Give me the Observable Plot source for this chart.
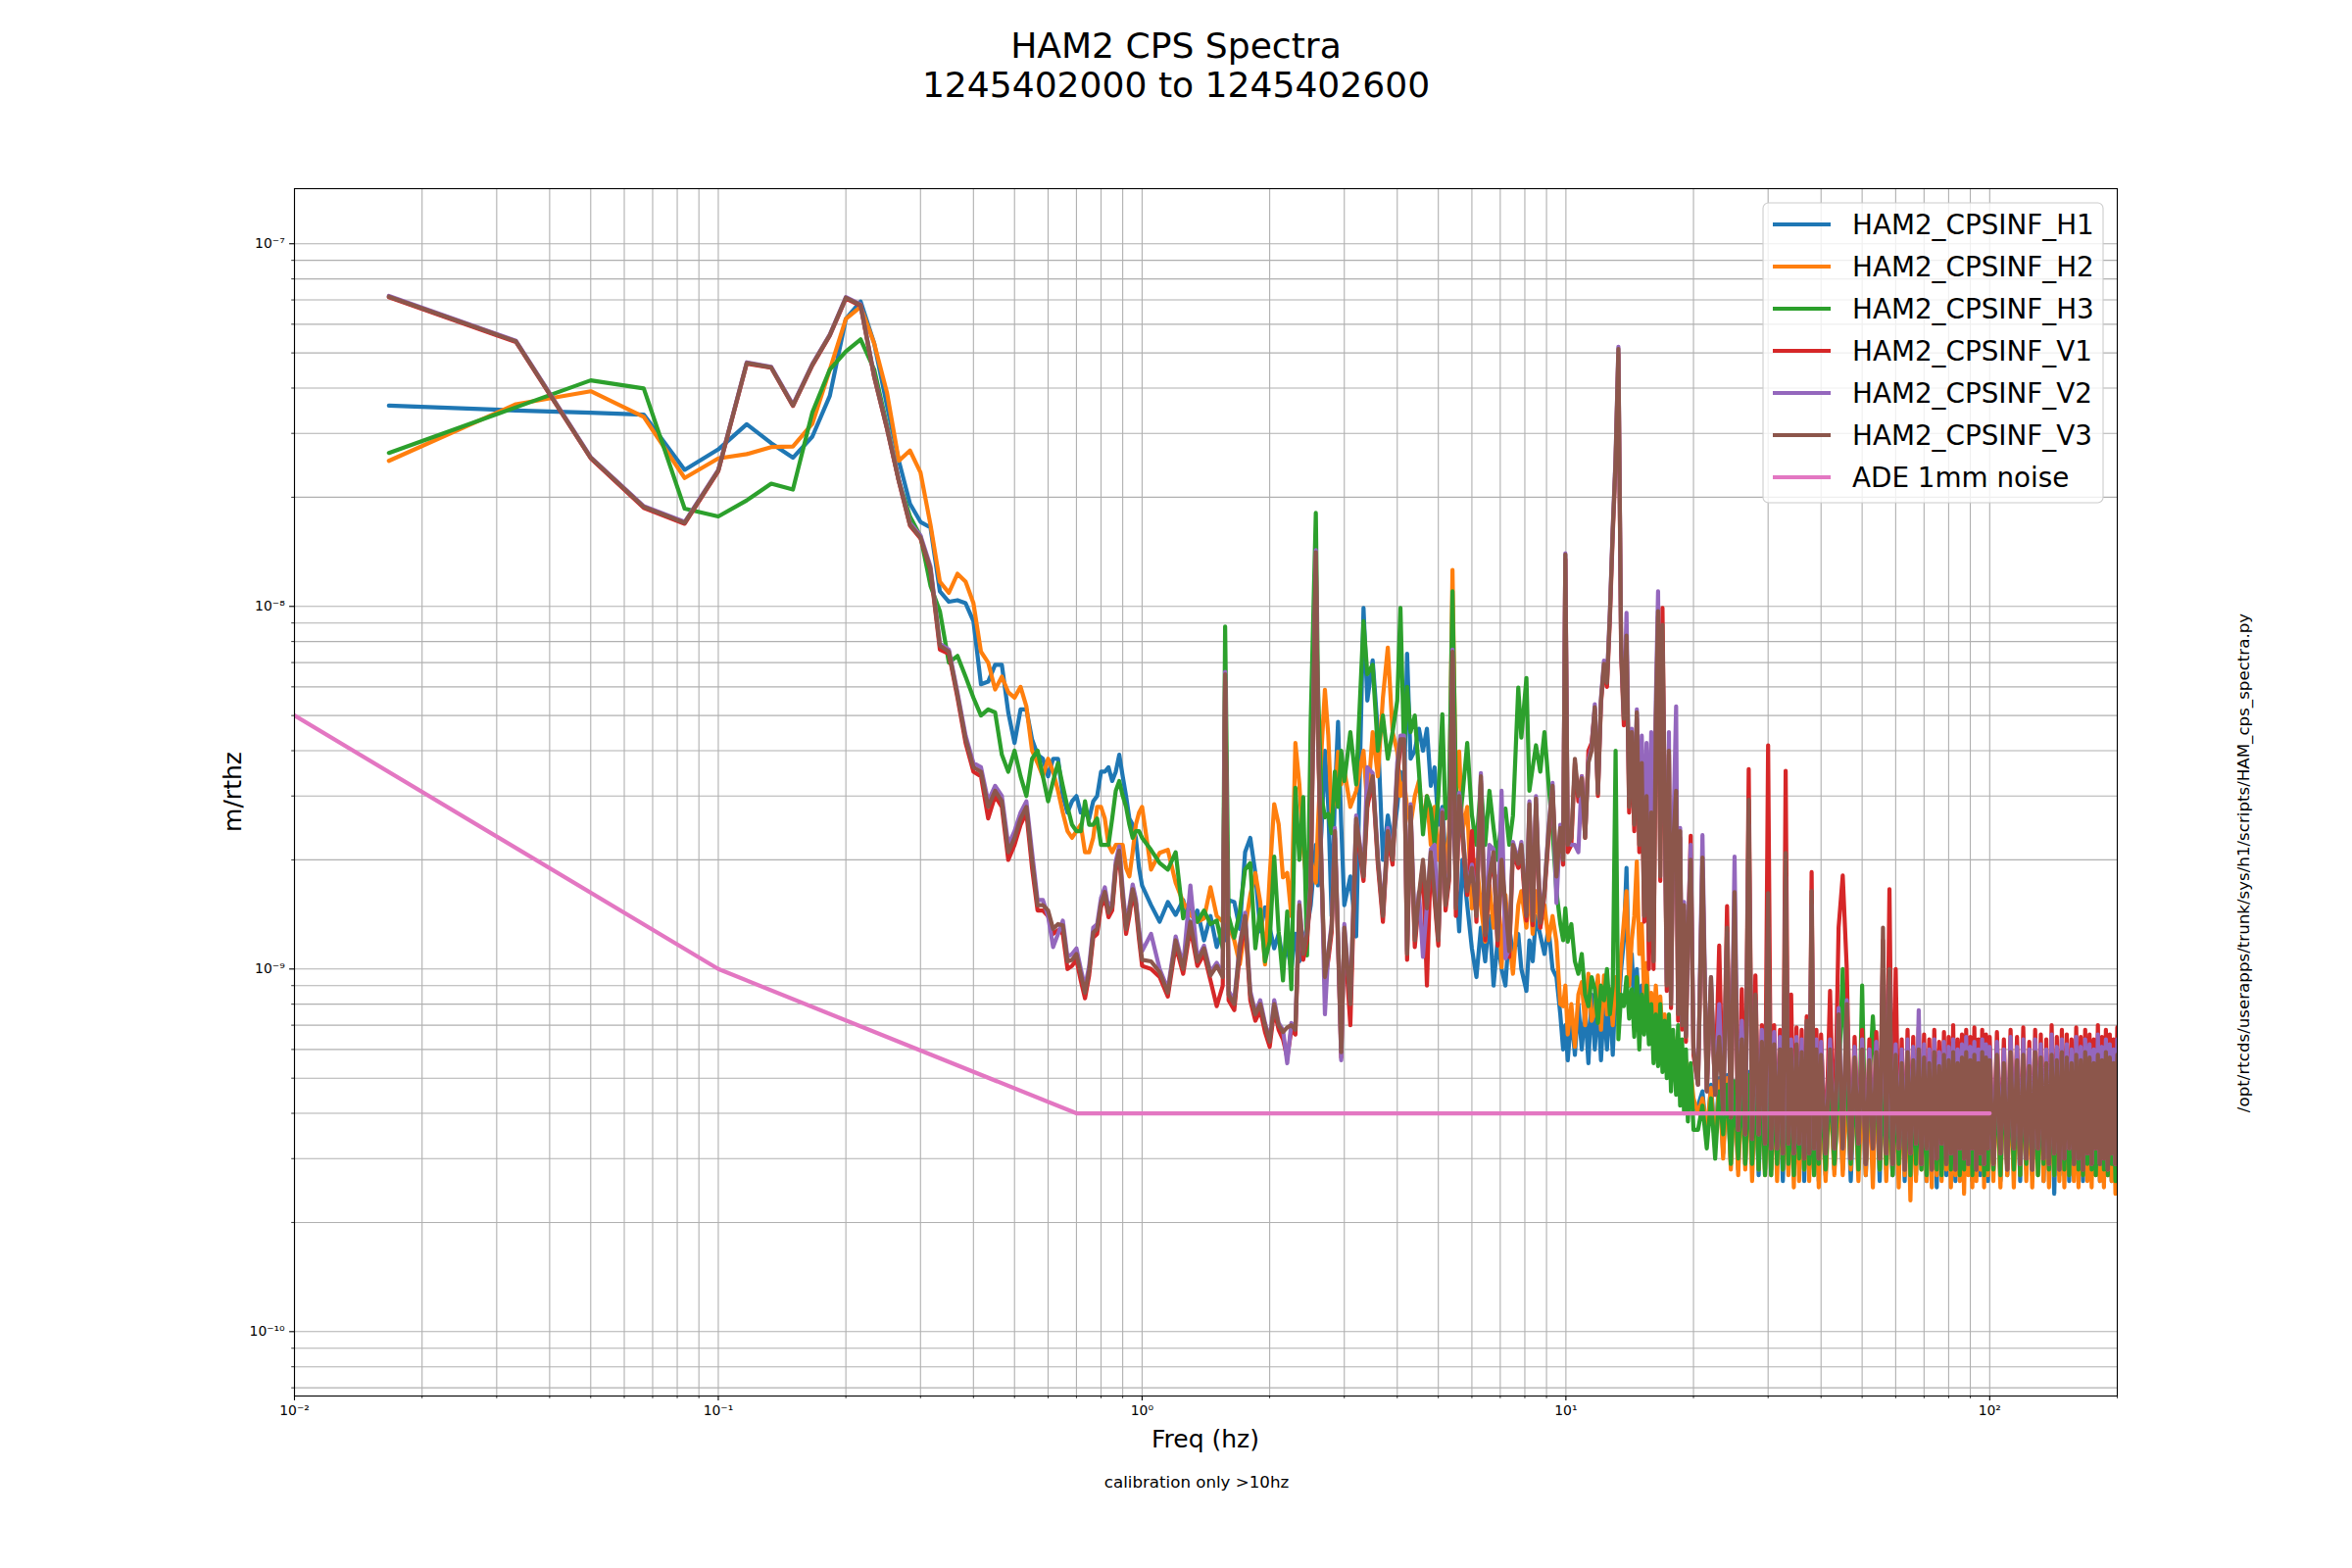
<!DOCTYPE html>
<html><head><meta charset="utf-8">
<script src="https://cdn.jsdelivr.net/npm/d3@7"></script>
<script src="https://cdn.jsdelivr.net/npm/@observablehq/plot@0.6"></script>
<style>
html,body{margin:0;padding:0;background:#fff;}
#wrap{position:relative;width:2400px;height:1600px;overflow:hidden;background:#fff;font-family:"DejaVu Sans",sans-serif;}
#wrap svg{position:absolute;left:0;top:0;}
</style></head><body><div id="wrap"></div>
<script>
// ---------- text ----------
const titleLines = ["HAM2 CPS Spectra", "1245402000 to 1245402600"];
const xLabel = "Freq (hz)";
const yLabel = "m/rthz";
const caption = "calibration only >10hz";
const sideText = "/opt/rtcds/userapps/trunk/sys/h1/scripts/HAM_cps_spectra.py";
const names = ["HAM2_CPSINF_H1","HAM2_CPSINF_H2","HAM2_CPSINF_H3","HAM2_CPSINF_V1","HAM2_CPSINF_V2","HAM2_CPSINF_V3","ADE 1mm noise"];
const colors = ["#1f77b4","#ff7f0e","#2ca02c","#d62728","#9467bd","#8c564b","#e377c2"];

// ---------- ticks ----------
const xMajor = [0.01, 0.1, 1, 10, 100];
const xTickLabels = ["10\u207B\u00B2","10\u207B\u00B9","10\u2070","10\u00B9","10\u00B2"];
const xMinor = [0.02,0.03,0.04,0.05,0.06,0.07,0.08,0.09,0.2,0.3,0.4,0.5,0.6,0.7,0.8,0.9,2,3,4,5,6,7,8,9,20,30,40,50,60,70,80,90,200];
const yMajor = [1e-10, 1e-9, 1e-8, 1e-7];
const yTickLabels = ["10\u207B\u00B9\u2070","10\u207B\u2079","10\u207B\u2078","10\u207B\u2077"];
const yMinor = [7e-11,8e-11,9e-11,2e-10,3e-10,4e-10,5e-10,6e-10,7e-10,8e-10,9e-10,2e-9,3e-9,4e-9,5e-9,6e-9,7e-9,8e-9,9e-9,2e-8,3e-8,4e-8,5e-8,6e-8,7e-8,8e-8,9e-8];

// ---------- data (amplitude in units of 1e-10 m/rtHz) ----------
const freqLow = [0.0167,0.0333,0.05,0.0667,0.0833,0.1,0.1167,0.1333,0.15,0.1667,0.1833,0.2,0.2167,0.2333,0.25,0.2667,0.2833,0.3,0.3167,0.3333,0.35,0.3667,0.3833,0.4,
0.4167,0.4333,0.45,0.4667,0.4833,0.5,0.5167,0.5333,0.55,0.5667,0.5833,0.6,0.6167,0.6333,0.65,0.6667,0.6833,0.7,0.7167,0.7333,0.75,0.7667,0.7833,0.8,0.8167,0.8333,0.85,0.8667,0.8833,0.9,0.9167,0.9333,0.95,0.9667,0.9833,1];
const freqMid = [
1.05,1.1,1.15,1.2,1.25,1.3,1.35,1.4,1.45,1.5,1.55,1.57,1.6,1.65,1.7,1.75,1.8,1.85,1.9,1.95,2.0,
2.05,2.1,2.15,2.2,2.25,2.3,2.35,2.4,2.45,2.5,2.57,2.6,2.65,2.7,2.75,2.8,2.85,2.9,2.95,3.0,
3.1,3.2,3.33,3.4,3.5,3.6,3.7,3.8,3.9,4.0,4.07,4.15,4.22,4.3,4.4,4.5,4.6,4.7,4.8,4.9,5.0,5.11,5.2,5.3,5.4,5.5,5.6,5.7,5.85,6.0,
6.15,6.3,6.45,6.6,6.75,6.9,7.05,7.2,7.35,7.5,7.72,7.85,8.07,8.2,8.35,8.5,8.7,8.9,9.1,9.3,9.5,9.7,9.85,9.97,10.1,
10.3,10.5,10.7,10.9,11.1,11.3,11.5,11.7,11.9,12.1,12.3,12.5,12.7,12.9,13.1,13.3,13.5,13.7,13.9,14.1,14.3,14.5,14.7,14.9,15.1,15.3,15.5,15.7,15.9,16.1,16.3,16.5,16.7,16.9,17.1,17.3,17.5,17.7,17.9,18.2,18.4,18.6,18.8,19.0,19.2,19.4,19.7,20.0];
const freqHigh = [
20.5,21,21.5,22,22.5,23,23.5,24,24.5,25,25.5,26,26.5,27,27.5,28,28.5,29,29.5,30,30.5,31,31.5,32,32.5,33,33.5,34,34.5,35,35.5,36,36.5,37,37.5,38,38.5,39,39.5,40,
41,42,43,44,45,46,47,48,49,50,51,52,53,54,55,56,57,58,59,60,61,62,63,64,65,66,67,68,69,70,71,72,73,74,75,76,77,78,79,80,81,82,83,84,85,86,87,88,89,90,91,92,93,94,95,96,97,98,99,100,
102,104,106,108,110,112,114,116,118,120,122,124,126,128,130,132,134,136,138,140,142,144,146,148,150,152,154,156,158,160,162,164,166,168,170,172,174,176,178,180,182,184,186,188,190,192,194,196,198,200];

// H1 (blue)
const h1Low = [358,347,342,338,238,271,318,282,257,294,381,621,693,531,358,252,192,171,165,110,103,104,102,91,
61,62,69,69,51,42,52,52,43,39,38,34,38,38,30,27,29,30,27,27,26,29,30,35,35,36,33,35,39,34,30,26,25,23,19,17];
const h1Mid = [
15,13.5,15.3,14.1,15.5,13,14.5,12,14,11.5,13,12,15.5,15.3,12.9,21,23,18.4,12.7,14.8,13,
11.4,12.5,10.5,11.5,10,12.5,10.5,12,13,15,22,17,24,40,28,14,30,48,25,15,
18,12.3,99,55,71,45,20,26.5,22,28,35,30,74,38,40,46,40,46,32,36,25,28,20,22,30,18,12.7,20,15,11.4,
9.5,13,10.5,14,9,12,10,9,13,11,12.5,10,8.7,12,10.5,14,12.4,11,13,10,9.5,7.5,6,7,5.6,
7.5,5.8,8,6,7.8,5.5,8.5,6,8.2,5.6,8,6,8.5,5.8,9,7.5,10,12,19,9,11,8,10,7.5,9,7,8.2,6.5,7.5,6,7,5.8,6.8,5.5,6.5,5.3,6.2,5,6,4.8,5.6,4.5,5.4,4.3,5.2,4.2,5,4.1];
const h1High = [
4.2,4.6,3.4,4.8,3.3,5.0,3.1,5.1,2.9,4.9,2.8,5.0,2.9,5.2,2.9,5.0,2.7,4.9,2.8,5.0,2.8,4.8,2.9,4.7,2.6,5.0,2.8,5.1,2.7,4.8,2.9,4.9,2.6,5.0,2.8,4.7,2.9,4.9,2.6,4.8,
2.7,4.9,2.8,4.8,2.8,5.1,2.6,4.8,2.9,5.0, 2.7,4.9,2.8,5.0,2.6,5.1,2.8,4.9,2.7,5.0, 2.9,4.8,2.6,5.0,2.8,4.9,2.7,5.1,2.9,4.8,
2.6,5.0,2.8,4.9,2.5,5.0,2.8,4.8,2.7,5.1, 2.9,4.9,2.6,5.0,2.8,4.8,2.7,5.0,2.9,4.9, 2.6,5.1,2.8,4.8,2.7,5.0,2.9,4.9,2.6,5.0,
2.8,4.9,2.6,5.0,2.7,4.8,2.9,5.1,2.6,4.9, 2.8,5.0,2.7,4.8,2.9,5.0,2.6,4.9,2.8,5.1, 2.4,4.8,2.7,5.0,2.8,4.9,2.6,5.0,2.9,4.8,
2.7,5.1,2.6,4.9,2.8,5.0,2.7,4.8,2.9,5.0, 2.6,4.9,2.8,5.1,2.7,4.8,2.6,5.0,2.8,4.9];

// H2 (orange)
const h2Low = [252,361,392,333,226,256,263,275,276,319,450,621,670,531,389,252,269,234,168,117,109,123,117,102,
75,70,59,64,58,56,60,53,40,37,34,38,35,31,27,24,23,24,25,21,21,23,28,28,26,22,21,22,22,22,19,18,21,25,27,28];
const h2Mid = [
18.8,20.9,21.3,17.3,15.3,14.1,13.5,13.8,16.8,14,13.5,14,13.2,12,10.3,13,16,18.4,15.3,10.3,18,
28.5,25.1,17.9,18.4,14,42,32.3,21.3,17,20,17.3,25,40,58.9,44,26.2,30,39.7,32.3,35.4,
28,31,40,28,45,34,56,77,45,39.7,30,33,28,25,30,33,25,30,22,28,20,26,18,24,126,30,39.8,24,28,14.7,
20,15,11.9,17,13,18,10.1,16,12,9.7,15,16.4,13,17,12.5,16.4,13,15,12,14,11.9,8,7.9,9,6.6,
8,6.1,8.5,9.2,7,9.7,7.2,7.6,9.6,6.8,9.6,7.5,8.8,7,9.5,8,11,13.5,16.4,9,12,14,19.8,11,13.3,8.5,10.4,7.5,8.6,6.8,9,7,8.4,6.5,7.5,5.8,7,5.5,6.5,5,6,4.6,5.8,4.5,5.6,4.3,5.2,4.4];
const h2High = [
4.0,4.4,3.6,4.7,3.2,4.9,3.0,5.0,2.8,4.8,2.7,4.9,2.8,5.0,2.6,4.8,2.8,5.0,2.7,4.8,2.7,4.9,2.6,5.0,2.8,4.9,2.7,4.7,2.5,4.9,2.6,5.0,2.8,4.8,2.6,4.9,2.7,5.0,2.5,4.8,
2.6,4.8,2.7,5.0,2.7,4.8,2.8,5.0,2.6,4.9, 2.7,4.8,2.5,5.0,2.8,4.9,2.6,4.8,2.7,5.0, 2.5,4.9,2.7,4.8,2.3,5.0,2.6,4.9,2.8,4.8,
2.6,5.0,2.5,4.9,2.7,4.8,2.6,5.0,2.8,4.9, 2.5,4.8,2.7,5.0,2.6,4.9,2.4,4.8,2.7,5.0, 2.5,4.9,2.6,4.8,2.8,5.0,2.5,4.9,2.7,4.8,
2.6,4.9,2.5,5.0,2.7,4.8,2.5,4.9,2.7,5.0, 2.6,4.8,2.5,4.9,2.7,5.0,2.6,4.8,2.5,4.9, 2.7,5.0,2.6,4.8,2.5,4.9,2.7,5.0,2.6,4.8,
2.5,4.9,2.7,5.0,2.6,4.8,2.5,4.9,2.7,5.0, 2.6,4.8,2.5,4.9,2.7,5.0,2.6,4.8,2.4,4.9];

// H3 (green)
const h3Low = [265,354,420,399,186,177,196,218,210,343,450,505,545,450,316,222,177,156,114,97,70,73,64,56,
50,52,51,39,35,40,34,30,38,40,34,29,33,37,32,28,25,24,24,29,25,25,26,22,22,22,26,31,33,30,28,25,23,24,24,23];
const h3Mid = [
21.3,19.6,18.8,21,13.8,15,13.5,14.5,13.3,13.6,11.4,88,14,12.2,14.4,18.8,19.6,11.4,14.6,10.5,11.9,
20.4,12.7,9.3,14.4,8.8,31.6,20,29.8,10.9,48.9,181,60,30,26.2,26.8,23.7,35,28,40,33,
45,32.3,91,65,69,40,50,38,45,55,99,40,60,45,50,35,23.5,30,27.7,22,30,50.4,26,30,110,32,25,30,42,26.6,
22,32.5,22,31,24.5,20,26,27.7,22,26.5,59.7,43.5,63.5,31,36,41.4,35,45,32.5,24,16.4,13.3,12,14.7,11.9,
13.3,10.5,9.7,11,8.5,7.9,9.5,8.8,7.1,9,8.2,10,7.5,9,40,6.4,8.5,7.9,9.5,7.3,8.8,6.5,9.5,6,8.5,6.6,9,6.2,8,5.5,7.5,5.4,8,5.2,7.2,5,7.5,4.6,6.8,4.5,7,4.2,6.4,4,6,3.8,5.5,3.6];
const h3High = [
3.6,4.2,3.2,4.4,3.0,4.6,3.5,4.8,2.9,4.9,3.0,5.0,2.9,5.1,2.9,5.0,2.8,4.9,2.7,4.8,2.7,5.0,2.9,4.9,2.8,5.0,2.9,4.8,2.7,5.0,3.0,4.9,2.8,5.0,2.9,4.8,2.7,5.0,2.9,4.9,
2.8,4.9,2.9,4.8,10,4.9,2.9,5.0,2.8,9.0, 2.9,4.9,7.4,5.0,2.8,4.9,2.9,5.0,2.7,4.8, 2.9,5.0,2.8,4.9,2.7,5.0,2.9,4.8,2.8,5.0,
2.7,4.9,2.9,5.0,2.8,4.8,2.7,5.0,2.9,4.9, 2.8,5.0,2.9,4.8,2.7,5.0,2.8,4.9,2.9,5.0, 2.7,4.8,2.8,5.0,2.9,4.9,2.7,5.0,2.8,4.8,
2.8,4.9,2.7,5.0,2.9,4.8,2.8,5.0,2.7,4.9, 2.9,5.0,2.8,4.8,2.7,5.0,2.9,4.9,2.8,5.0, 2.7,4.8,2.9,5.0,2.8,4.9,2.7,5.0,2.9,4.8,
2.8,5.0,2.7,4.9,2.9,5.0,2.8,4.8,2.7,5.0, 2.9,4.9,2.8,5.0,2.7,4.8,2.9,5.0,2.6,4.9];

// V1 (red)
const v1Low = [712,536,256,187,169,236,467,455,357,462,558,706,674,428,309,221,167,154,126,76,74,56,42,35,
34,26,30,28,20,22,25,27,19,14.5,14.5,14,12.5,12.8,12.5,10,10.2,10.6,9.3,8.3,9.6,12.2,12.5,14.8,15.8,13.9,14.5,18.7,20.5,15.5,12.5,14,16.1,14.7,12.1,10.2];
const v1Mid = [
10,9.5,8.4,11.6,9.7,13,10.2,11,9.3,7.9,9,62,8.2,7.7,11,13.5,8.2,7.2,7.7,6.7,6.1,
7.7,6.8,6.4,5.7,6.8,6.6,14.5,10.6,12,16.5,137,43,18.4,9.2,10.6,12.6,23,11.6,5.7,12.6,
7,25,17.5,28,33,19.4,13.5,23,19.4,34,41,42,10.6,27,11.5,15.5,19.4,9,20.4,15.5,11.6,26,14.5,17.5,72,14,29,23,16,24,
13.5,33,12,17.5,20.4,11.6,19.4,14.5,10.8,21,19,21,13.6,27.5,13.2,28.5,13,16,23,31,17.5,23.5,19.4,135,21,
22,37,29,34,23,40,42,52,30,54,68,60,92,158,246,498,74,47,80,27,43,24,49,21,36,13.5,29,10,26,10,46,94,17.5,99,29,8.7,39,7.8,21,30,7.2,23,6.8,14.5,6.3,11.6,23.3,5.8];
const v1High = [
4.8,19,4.6,9,4.5,11.6,4.0,14.9,3.9,14,3.6,8.8,3.5,35.6,3.4,9.6,3.5,7.0,3.3,41.4,3.2,7.0,3.2,6.8,3.1,35.2,3.3,8.5,3.1,6.9,3.3,6.8,3.0,7.4,3.1,18.5,3.2,6.8,3.0,6.6,
3.1,8.7,3.2,13,18.1,10,3.0,6.5,3.3,6.8, 2.9,6.4,3.2,6.7,3.0,12,3.1,16.6,2.9,10, 3.2,6.4,2.8,6.8,3.1,6.5,3.3,6.9,2.9,6.6,
3.2,6.4,2.8,6.8,3.0,6.3,3.3,6.7,2.9,6.5, 3.1,7.0,2.8,6.4,3.2,6.6,3.0,6.8,2.9,6.5, 3.2,6.9,2.8,6.4,3.1,6.8,2.9,6.6,3.2,6.5,
2.9,6.7,3.1,6.4,2.8,6.8,3.2,6.5,2.9,6.9, 3.0,6.3,2.8,6.8,3.2,6.6,3.0,6.4,2.9,7.0, 3.1,6.5,2.8,6.8,3.0,6.6,3.2,6.4,2.9,6.9,
3.0,6.5,2.8,6.8,3.1,6.6,2.9,6.4,3.2,7.0, 2.9,6.5,3.0,6.8,2.8,6.6,3.1,6.4,2.9,6.9];

// V2 (purple)
const v2Low = [718,540,258,189,171,238,471,458,360,466,562,713,680,432,312,223,170,157,129,79,76,58,44,37,
36,29,32,30,22,24,27,29,21,15.5,15.5,14,11.5,12.5,13.6,10.8,11,11.4,10,8.9,10.2,13,13.3,15.7,16.8,14.7,15.4,19.8,21.8,16.6,13.3,14.9,17.1,15.6,12.9,11.2];
const v2Mid = [
12.5,10,8.8,12.3,10.2,17,10.7,11.6,9.8,10.4,9.7,66,8.7,8.2,11.7,14.3,8.7,7.6,8.2,7.1,6.4,
8.2,7.1,6.8,5.5,7.1,6.9,15.3,11.2,12.7,17.3,143,46,19.4,7.5,11.2,13.3,24.5,12.2,5.6,13.3,
8.2,26.5,18.4,36,34.7,20.4,14.3,24.5,20.4,37,44,44,11.2,28.5,12.5,16.3,10.8,15,21.4,22,12.2,27.5,15.3,18.4,76,15,30.6,24.5,16.7,19.4,
14.3,34.7,12.6,22,21.4,12.2,31,10.7,11.4,22.4,19.9,22.4,14.3,29,13.9,30,13.7,16.7,24.5,32.6,15.2,25,20.4,140,22.4,
22,22,21,34,23.5,37.7,40.8,53.7,31,56,70.9,62.7,97,166,259,520,77.5,50,96,30,46,28,52,26,44,22,42,20,45,18,55,110,25,75,30.6,9.2,45,8.2,22.4,53,7.7,24.5,7.1,15.3,6.6,12.2,22,6.1];
const v2High = [
4.8,23.4,4.6,9.5,4.5,8,4.0,12.6,3.9,20.4,3.6,7.2,3.5,25,3.4,8.2,3.5,6.8,3.3,13,3.2,6.7,3.2,6.5,3.1,18,3.3,6.4,3.1,6.5,3.3,6.4,3.0,7.0,3.1,15,3.2,6.4,3.0,6.3,
3.1,6.4,3.2,7.8,3.2,8.2,3.0,6.1,3.3,6.4, 2.9,6.0,3.2,6.3,3.0,11,3.1,9.5,2.9,6.2, 3.2,6.0,2.8,6.4,3.1,6.1,3.3,7.7,2.9,6.2,
3.2,6.0,2.8,6.4,3.0,5.9,3.3,6.3,2.9,6.1, 3.1,6.4,2.8,6.0,3.2,6.2,3.0,6.5,2.9,6.1, 3.2,6.3,2.8,6.0,3.1,6.4,2.9,6.2,3.2,6.1,
2.9,6.3,3.1,6.0,2.8,6.5,3.2,6.1,2.9,6.4, 3.0,6.0,2.8,6.4,3.2,6.2,3.0,6.0,2.9,6.6, 3.1,6.1,2.8,6.4,3.0,6.2,3.2,6.0,2.9,6.5,
3.0,6.1,2.8,6.4,3.1,6.2,2.9,6.0,3.2,6.6, 2.9,6.1,3.0,6.4,2.8,6.2,3.1,6.0,2.9,6.4];

// V3 (brown)
const v3Low = [715,538,257,188,170,237,469,456,358,464,560,710,677,430,310,222,168,155,127,78,75,57,43,36,
35,28,31,29,21,23,26,28,20,15,15,14.5,12.9,13.3,13.2,10.5,10.6,11,9.7,8.6,9.9,12.6,12.9,15.2,16.3,14.3,14.9,19.3,21.2,16,12.9,14.5,16.6,15.2,12.5,10.6];
const v3Mid = [
10.5,9.8,8.6,12,10,13.5,10.5,11.4,9.6,10.2,9.5,65,8.5,8,11.5,14,8.5,7.5,8,7,6.3,
8,7,6.7,6.9,7,6.8,15,11,12.5,17,141,45,19,9.5,11,13,24,12,5.9,13,
8,26,18,29,34,20,14,24,20,35,43,43,11,28,12,16,20,14.7,21,16,12,27,15,18,75,14.7,30,24,16.4,19,
14,34,12.4,18,21,12,20,15,11.2,22,19.5,22,14,28.5,13.6,29.5,13.4,16.4,24,32,18,24.5,20,139,22,
23,38,30,33.6,23,37,40,52.7,30.5,55,69.5,61.5,95,163,254,513,76,49,83,28,45,25,51,22,37,14,30,12,27,10.5,48,97,18,89,30,9,40,8,22,31,7.5,24,7,15,6.5,12,20,6];
const v3High = [
4.8,20.3,4.6,9.5,4.5,6.5,4.0,13,3.9,16.3,3.6,6.4,3.5,29.3,3.4,8.5,3.5,6.3,3.3,16.2,3.2,6.2,3.2,6.0,3.1,20.9,3.3,6.0,3.1,6.2,3.3,5.9,3.0,7.2,3.1,16.4,3.2,6.0,3.0,5.8,
3.1,6.0,3.2,7.5,3.2,8,3.0,5.7,3.3,6.0, 2.9,5.6,3.2,5.9,3.0,13,3.1,10,2.9,5.8, 3.2,5.5,2.8,5.9,3.1,5.6,3.3,6.0,2.9,5.7,
3.2,5.5,2.8,5.9,3.0,5.4,3.3,5.8,2.9,5.6, 3.1,5.9,2.8,5.5,3.2,5.7,3.0,5.9,2.9,5.6, 3.2,5.8,2.8,5.5,3.1,5.9,2.9,5.7,3.2,5.6,
2.9,5.8,3.1,5.5,2.8,5.9,3.2,5.6,2.9,5.8, 3.0,5.4,2.8,5.9,3.2,5.7,3.0,5.5,2.9,5.8, 3.1,5.6,2.8,5.9,3.0,5.7,3.2,5.5,2.9,5.8,
3.0,5.6,2.8,5.9,3.1,5.7,2.9,5.5,3.2,5.8, 2.9,5.6,3.0,5.9,2.8,5.7,3.1,5.5,2.9,5.8];

// ADE 1mm noise model
const adeFreq = [0.01, 0.1, 0.7, 100];
const adeVals = [50, 10, 4, 4];

// ---------- build ----------
const U = 1e-10;
const LW = 4.2;
const wrap = document.getElementById("wrap");
const segs = [["Low", freqLow, [h1Low,h2Low,h3Low,v1Low,v2Low,v3Low]],
              ["Mid", freqMid, [h1Mid,h2Mid,h3Mid,v1Mid,v2Mid,v3Mid]],
              ["High", freqHigh, [h1High,h2High,h3High,v1High,v2High,v3High]]];
const problems = [];
segs.forEach(([nm, f, arrs]) => arrs.forEach((a, i) => { if (a.length !== f.length) problems.push(names[i] + " " + nm + ": " + a.length + " vs " + f.length); }));
const freq = freqLow.concat(freqMid, freqHigh);
const seriesVals = [0,1,2,3,4,5].map(i => segs[0][2][i].concat(segs[1][2][i], segs[2][2][i]));
const seriesRows = seriesVals.map(vals => freq.map((f, j) => ({f, v: vals[j] * U})).filter(d => d.v > 0));
const adeRows = adeFreq.map((f, j) => ({f, v: adeVals[j] * U}));

const xLab = new Map(xMajor.map((v, i) => [v, xTickLabels[i]]));
const yLab = new Map(yMajor.map((v, i) => [v, yTickLabels[i]]));
const grid = {stroke: "#b0b0b0", strokeOpacity: 1, strokeWidth: 1.1};

const chart = Plot.plot({
  width: 2400, height: 1600,
  marginLeft: 300, marginRight: 240, marginTop: 192, marginBottom: 176,
  x: {type: "log", domain: [0.01, 200]},
  y: {type: "log", domain: [6.645e-11, 1.419e-7]},
  style: {background: "white", color: "black", fontFamily: "DejaVu Sans", fontSize: "13.9px", overflow: "visible"},
  marks: [
    Plot.gridX(xMajor.concat(xMinor), grid),
    Plot.gridY(yMajor.concat(yMinor), grid),
    ...seriesRows.map((rows, i) => Plot.line(rows, {x: "f", y: "v", stroke: colors[i], strokeWidth: LW, clip: true})),
    Plot.line(adeRows, {x: "f", y: "v", stroke: colors[6], strokeWidth: LW, clip: true}),
    Plot.axisX(xMinor, {anchor: "bottom", tickSize: 2.8, strokeWidth: 0.8, label: null, tickFormat: () => ""}),
    Plot.axisY(yMinor, {anchor: "left", tickSize: 2.8, strokeWidth: 0.8, label: null, tickFormat: () => ""}),
    Plot.axisX(xMajor, {anchor: "bottom", tickSize: 4.9, tickPadding: 4.9, strokeWidth: 1.1, fontSize: 13.9, label: null, tickFormat: d => xLab.get(d)}),
    Plot.axisY(yMajor, {anchor: "left", tickSize: 4.9, tickPadding: 4.9, strokeWidth: 1.1, fontSize: 13.9, label: null, tickFormat: d => yLab.get(d)}),
    Plot.frame({stroke: "black", strokeWidth: 1.1})
  ]
});
wrap.appendChild(chart);

// ---------- annotations ----------
const svg = d3.select(wrap).append("svg")
  .attr("width", 2400).attr("height", 1600)
  .style("pointer-events", "none")
  .attr("font-family", "DejaVu Sans");
svg.append("text").attr("x", 1200).attr("y", 59.3).attr("text-anchor", "middle").attr("font-size", 36.1).text(titleLines[0]);
svg.append("text").attr("x", 1200).attr("y", 98.5).attr("text-anchor", "middle").attr("font-size", 36.1).text(titleLines[1]);
svg.append("text").attr("x", 1230).attr("y", 1477).attr("text-anchor", "middle").attr("font-size", 25).text(xLabel);
svg.append("text").attr("transform", "translate(246,808) rotate(-90)").attr("text-anchor", "middle").attr("font-size", 25).text(yLabel);
svg.append("text").attr("x", 1221).attr("y", 1518).attr("text-anchor", "middle").attr("font-size", 16.67).text(caption);
svg.append("text").attr("transform", "translate(2295,880.5) rotate(-90)").attr("text-anchor", "middle").attr("font-size", 16.67).text(sideText);

// legend
const lg = svg.append("g");
lg.append("rect").attr("x", 1799).attr("y", 207).attr("width", 347).attr("height", 306).attr("rx", 5.5)
  .attr("fill", "white").attr("fill-opacity", 0.8).attr("stroke", "#cccccc").attr("stroke-width", 1.1);
names.forEach((nm, i) => {
  const cy = 229 + 43 * i;
  lg.append("line").attr("x1", 1809).attr("x2", 1868).attr("y1", cy).attr("y2", cy).attr("stroke", colors[i]).attr("stroke-width", LW);
  lg.append("text").attr("x", 1890).attr("y", cy + 10.1).attr("font-size", 27.8).text(nm);
});

if (problems.length) {
  svg.append("text").attr("x", 20).attr("y", 1580).attr("fill", "red").attr("font-size", 20).text(problems.join(" | "));
}
</script></body></html>
